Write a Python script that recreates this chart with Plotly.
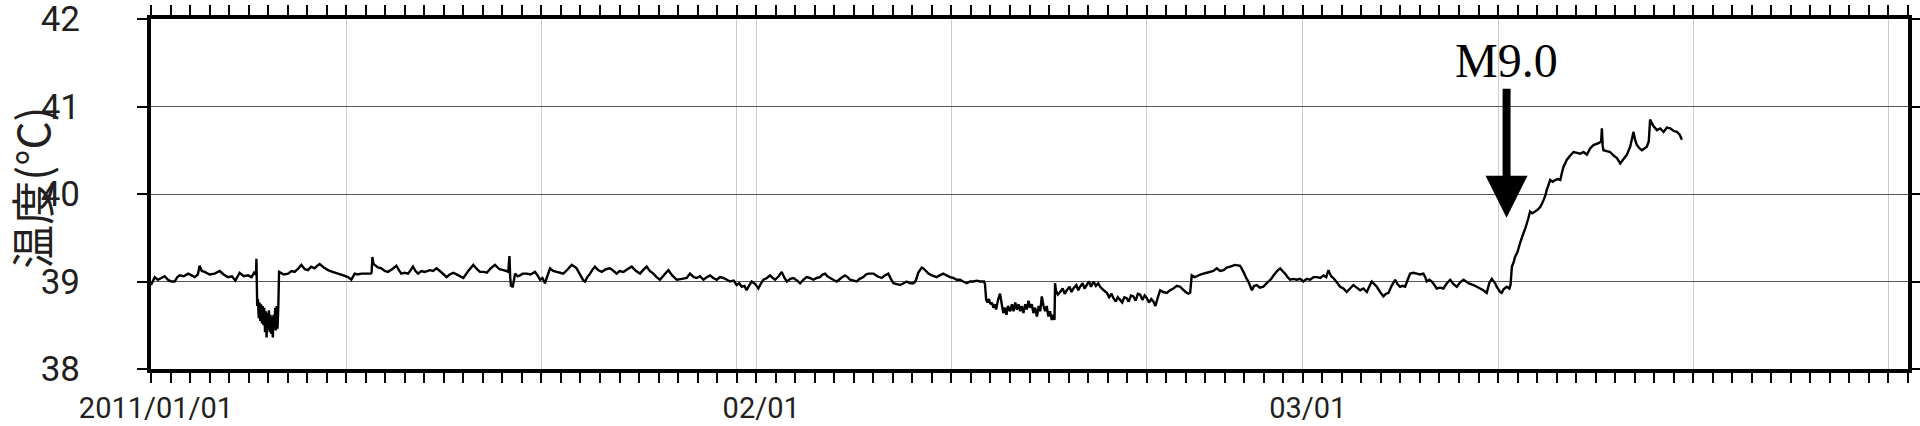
import pandas as pd
import plotly.graph_objects as go

# ---- data: (days since 2011-01-01 00:00, water temperature in degC) ----
jan_first_week = [
    (0.00, 38.96), (0.19, 39.05), (0.35, 39.02), (0.53, 39.04), (0.70, 39.06), (0.87, 39.02),
    (1.05, 39.00), (1.21, 39.00), (1.35, 39.05), (1.47, 39.07), (1.68, 39.06), (1.90, 39.09),
    (2.08, 39.07), (2.24, 39.05), (2.40, 39.08), (2.49, 39.18), (2.60, 39.12), (2.75, 39.11),
    (3.00, 39.08), (3.26, 39.09), (3.52, 39.12), (3.72, 39.08), (3.94, 39.05), (4.15, 39.06),
    (4.32, 39.01), (4.54, 39.10), (4.75, 39.06), (4.97, 39.07), (5.15, 39.05), (5.28, 39.10),
    (5.38, 39.08), (5.40, 39.26),
]
jan_dip = [
    (5.44, 38.72), (5.48, 38.80), (5.52, 38.58), (5.56, 38.76), (5.60, 38.55), (5.64, 38.74),
    (5.68, 38.52), (5.72, 38.72), (5.76, 38.50), (5.80, 38.70), (5.84, 38.42), (5.88, 38.66),
    (5.92, 38.36), (5.96, 38.64), (6.00, 38.45), (6.04, 38.67), (6.08, 38.42), (6.12, 38.62),
    (6.16, 38.40), (6.20, 38.60), (6.24, 38.36), (6.28, 38.62), (6.32, 38.45), (6.36, 38.70),
    (6.40, 38.44), (6.44, 38.72), (6.48, 38.46), (6.52, 38.70),
]
jan_mid = [
    (6.56, 39.11), (6.80, 39.08), (7.02, 39.09), (7.20, 39.12), (7.36, 39.11), (7.55, 39.15),
    (7.70, 39.19), (7.88, 39.14), (8.04, 39.13), (8.20, 39.17), (8.38, 39.15), (8.52, 39.18),
    (8.64, 39.20), (8.85, 39.16), (9.07, 39.13), (9.30, 39.11), (9.58, 39.09), (9.85, 39.07),
    (10.09, 39.05), (10.26, 39.02), (10.43, 39.09), (10.60, 39.08), (10.77, 39.09), (11.00, 39.09),
    (11.25, 39.09), (11.30, 39.10), (11.34, 39.28), (11.40, 39.20), (11.46, 39.19), (11.62, 39.16),
    (11.80, 39.15), (11.97, 39.12), (12.14, 39.11), (12.35, 39.14), (12.57, 39.18), (12.70, 39.13),
    (12.82, 39.09), (13.00, 39.10), (13.17, 39.09), (13.30, 39.13), (13.42, 39.17), (13.55, 39.12),
    (13.68, 39.09), (13.85, 39.12),
]
jan_late = [
    (14.02, 39.11), (14.29, 39.13), (14.45, 39.12), (14.63, 39.15), (14.90, 39.10), (15.14, 39.05),
    (15.30, 39.08), (15.49, 39.10), (15.75, 39.07), (16.00, 39.04), (16.25, 39.12), (16.51, 39.19),
    (16.70, 39.14), (16.85, 39.11), (17.05, 39.11), (17.20, 39.10), (17.40, 39.15), (17.62, 39.19),
    (17.85, 39.14), (18.05, 39.13), (18.20, 39.12), (18.30, 39.11), (18.36, 39.29), (18.40, 39.05),
    (18.44, 38.94), (18.48, 38.98), (18.52, 38.93), (18.58, 39.00), (18.65, 39.09), (18.78, 39.06),
    (18.90, 39.07), (19.05, 39.09), (19.24, 39.09), (19.45, 39.08), (19.67, 39.11), (19.80, 39.07),
    (19.93, 39.02), (20.05, 39.04), (20.18, 38.98), (20.30, 39.06), (20.44, 39.15), (20.60, 39.12),
    (20.78, 39.11), (20.95, 39.10), (21.12, 39.09), (21.35, 39.14), (21.55, 39.19), (21.70, 39.17),
    (21.80, 39.15), (22.00, 39.07), (22.15, 39.01), (22.23, 39.00), (22.35, 39.05), (22.49, 39.09),
    (22.60, 39.13), (22.74, 39.17), (22.90, 39.13), (23.09, 39.11), (23.30, 39.14), (23.51, 39.15),
    (23.70, 39.12), (23.85, 39.09), (24.00, 39.12), (24.20, 39.11), (24.40, 39.14), (24.62, 39.17),
    (24.85, 39.12), (25.05, 39.09), (25.20, 39.13), (25.39, 39.17), (25.55, 39.12), (25.73, 39.09),
    (25.90, 39.05), (26.07, 39.02), (26.30, 39.08), (26.50, 39.13), (26.70, 39.07), (26.93, 39.02),
    (27.20, 39.03), (27.44, 39.04),
]
jan_feb = [
    (27.61, 39.09), (27.80, 39.05), (27.95, 39.04), (28.12, 39.06), (28.30, 39.02), (28.48, 39.05),
    (28.64, 39.07), (28.80, 39.04), (28.98, 39.02), (29.15, 39.05), (29.32, 39.04), (29.50, 39.02),
    (29.66, 39.00), (29.85, 39.01), (30.00, 38.96), (30.13, 38.98), (30.26, 38.94), (30.40, 38.95),
    (30.51, 38.90), (30.65, 38.96), (30.77, 39.00), (30.95, 38.97), (31.11, 38.92), (31.25, 38.98),
    (31.37, 39.02), (31.55, 39.04), (31.71, 39.07), (31.85, 39.04), (31.97, 39.02), (32.15, 39.06),
    (32.31, 39.11), (32.45, 39.04), (32.57, 39.00), (32.75, 39.03), (32.91, 39.04), (33.10, 39.01),
    (33.25, 38.98), (33.42, 39.02), (33.59, 39.05), (33.75, 39.04), (33.93, 39.02), (34.10, 39.04),
    (34.27, 39.05), (34.40, 39.08), (34.53, 39.09), (34.65, 39.06), (34.79, 39.04), (34.95, 39.02),
    (35.13, 39.00), (35.35, 39.04), (35.55, 39.07), (35.68, 39.05), (35.81, 39.02), (36.00, 39.01),
    (36.15, 39.00), (36.30, 39.03), (36.49, 39.05), (36.62, 39.08), (36.75, 39.09), (36.90, 39.09),
    (37.01, 39.09), (37.20, 39.06), (37.43, 39.04), (37.60, 39.07), (37.77, 39.09), (37.90, 39.03),
    (38.03, 38.98), (38.20, 38.97), (38.37, 38.96), (38.55, 38.98), (38.71, 39.00), (38.88, 38.98),
    (39.05, 38.98), (39.15, 39.00), (39.22, 39.04), (39.30, 39.10), (39.39, 39.13), (39.48, 39.16),
    (39.56, 39.15), (39.70, 39.12), (39.82, 39.09), (40.00, 39.07), (40.24, 39.05), (40.40, 39.07),
    (40.58, 39.09), (40.75, 39.07), (40.93, 39.05), (41.10, 39.04), (41.27, 39.02),
]
feb_low = [
    (41.44, 39.02), (41.60, 39.00), (41.79, 38.98), (41.95, 39.00), (42.13, 39.00), (42.30, 39.01),
    (42.47, 39.00), (42.60, 39.00), (42.67, 39.00), (42.72, 38.97), (42.78, 38.79),
    (42.85, 38.76), (42.92, 38.80), (43.00, 38.74), (43.07, 38.76), (43.15, 38.70), (43.22, 38.74),
    (43.29, 38.68), (43.40, 38.80), (43.49, 38.86), (43.58, 38.74), (43.66, 38.64), (43.75, 38.70),
    (43.82, 38.62), (43.90, 38.72), (44.01, 38.66), (44.10, 38.74), (44.18, 38.66), (44.27, 38.76),
    (44.35, 38.68), (44.44, 38.74), (44.52, 38.66), (44.60, 38.72), (44.69, 38.64), (44.78, 38.74),
    (44.86, 38.68), (44.95, 38.78), (45.03, 38.70), (45.12, 38.74), (45.20, 38.64), (45.29, 38.70),
    (45.38, 38.60), (45.47, 38.72), (45.55, 38.66), (45.63, 38.83), (45.72, 38.72), (45.80, 38.66),
    (45.88, 38.72), (45.97, 38.60), (46.05, 38.66), (46.14, 38.56), (46.22, 38.62), (46.28, 38.56),
    (46.31, 38.98), (46.35, 38.90), (46.45, 38.85), (46.57, 38.88), (46.70, 38.92), (46.80, 38.86),
    (46.91, 38.90), (47.05, 38.94), (47.15, 38.88), (47.25, 38.92), (47.40, 38.96), (47.50, 38.90),
    (47.59, 38.94), (47.72, 38.98), (47.82, 38.92), (47.93, 38.96), (48.05, 39.00), (48.15, 38.94),
    (48.28, 39.00), (48.40, 38.95), (48.52, 38.98), (48.62, 38.94), (48.80, 38.90), (48.96, 38.87),
    (49.08, 38.82), (49.20, 38.86), (49.30, 38.81), (49.42, 38.77), (49.52, 38.82), (49.64, 38.79),
    (49.75, 38.76), (49.86, 38.82), (49.98, 38.81), (50.08, 38.77), (50.20, 38.84), (50.32, 38.83),
    (50.44, 38.78), (50.55, 38.86), (50.67, 38.85), (50.78, 38.79), (50.90, 38.84), (51.01, 38.81),
    (51.12, 38.76), (51.24, 38.80), (51.35, 38.77), (51.45, 38.72), (51.55, 38.80), (51.69, 38.90),
    (51.85, 38.88), (52.03, 38.87), (52.20, 38.90), (52.37, 38.92), (52.55, 38.95), (52.72, 38.94),
    (52.90, 38.90), (53.06, 38.87), (53.15, 38.86), (53.23, 38.87),
]
feb_mar = [
    (53.31, 39.07), (53.45, 39.05), (53.57, 39.06), (53.75, 39.08), (53.91, 39.09), (54.08, 39.10),
    (54.25, 39.11), (54.42, 39.12), (54.59, 39.15), (54.76, 39.12), (54.94, 39.13), (55.10, 39.16),
    (55.28, 39.17), (55.53, 39.19), (55.79, 39.18), (55.96, 39.11), (56.10, 39.04), (56.21, 39.00),
    (56.39, 38.90), (56.50, 38.95), (56.64, 38.96), (56.80, 38.93), (56.98, 38.94), (57.10, 38.97),
    (57.24, 39.00), (57.38, 39.03), (57.50, 39.07), (57.68, 39.12), (57.84, 39.15), (57.96, 39.12),
    (58.09, 39.09), (58.22, 39.05), (58.35, 39.02), (58.52, 39.03), (58.69, 39.02), (58.86, 39.03),
    (59.03, 39.00), (59.20, 39.03), (59.38, 39.02), (59.55, 39.05), (59.72, 39.05), (59.90, 39.04),
    (60.06, 39.07), (60.20, 39.05), (60.31, 39.13), (60.45, 39.06), (60.57, 39.04), (60.75, 38.99),
    (60.91, 38.94), (61.08, 38.92), (61.25, 38.88), (61.42, 38.92), (61.59, 38.96), (61.76, 38.93),
    (61.94, 38.90), (62.10, 38.92), (62.28, 38.88), (62.40, 38.94), (62.53, 39.00), (62.66, 38.97),
    (62.79, 38.94), (62.96, 38.88), (63.13, 38.83), (63.26, 38.86), (63.39, 38.87), (63.55, 38.95),
    (63.73, 39.02), (63.85, 38.97), (63.98, 38.94), (64.10, 38.95), (64.24, 38.94), (64.37, 39.02),
    (64.50, 39.09), (64.67, 39.10), (64.84, 39.09), (65.00, 39.08), (65.18, 39.09), (65.27, 39.05),
    (65.35, 39.00), (65.48, 39.02), (65.61, 39.00), (65.74, 38.96), (65.86, 38.92), (66.03, 38.93),
    (66.20, 38.92), (66.38, 38.98), (66.55, 39.02), (66.72, 38.97), (66.89, 38.94), (67.06, 38.99),
    (67.23, 39.02), (67.36, 39.00), (67.48, 38.98), (67.61, 38.97), (67.74, 38.96), (67.91, 38.94),
    (68.08, 38.92), (68.25, 38.90), (68.42, 38.87), (68.55, 38.98), (68.68, 39.03), (68.85, 38.98),
    (68.93, 38.94), (69.11, 38.88), (69.19, 38.87), (69.28, 38.91), (69.45, 38.94), (69.58, 38.92),
    (69.64, 38.96),
]
after_quake = [
    (69.71, 39.17), (69.80, 39.22), (69.87, 39.28), (70.00, 39.34), (70.13, 39.44), (70.22, 39.50),
    (70.30, 39.55), (70.40, 39.61), (70.47, 39.66), (70.55, 39.72), (70.64, 39.80), (70.75, 39.78),
    (70.90, 39.80), (71.02, 39.82), (71.16, 39.85), (71.25, 39.89), (71.33, 39.93), (71.42, 39.98),
    (71.50, 40.05), (71.58, 40.10), (71.67, 40.16), (71.80, 40.14), (71.93, 40.16), (72.06, 40.17),
    (72.19, 40.16), (72.27, 40.24), (72.35, 40.31), (72.44, 40.35), (72.52, 40.39), (72.70, 40.44),
    (72.87, 40.48), (73.05, 40.47), (73.21, 40.46), (73.38, 40.48), (73.55, 40.45), (73.72, 40.52),
    (73.89, 40.56), (74.02, 40.57), (74.15, 40.58), (74.28, 40.60), (74.32, 40.75), (74.36, 40.55),
    (74.40, 40.50), (74.57, 40.49), (74.74, 40.48), (74.92, 40.44), (75.09, 40.41), (75.26, 40.35),
    (75.43, 40.40), (75.60, 40.45), (75.77, 40.54), (75.85, 40.62), (75.94, 40.71), (76.02, 40.62),
    (76.11, 40.56), (76.25, 40.52), (76.37, 40.50), (76.50, 40.52), (76.62, 40.54), (76.72, 40.60),
    (76.79, 40.85), (76.95, 40.78), (77.14, 40.73), (77.30, 40.75), (77.48, 40.71), (77.65, 40.76),
    (77.82, 40.75), (78.00, 40.72), (78.16, 40.71), (78.30, 40.68), (78.42, 40.62),
]

start_date = "2011-01-01"
end_date = "2011-04-01"
y_ticks = [38, 39, 40, 41, 42]
label_dates = ["2011-01-01", "2011-02-01", "2011-03-01"]
label_texts = ["2011/01/01", "02/01", "03/01"]
grid_days_of_month = [1, 11, 21, 31]
quake_time = "2011-03-11 10:30"
quake_arrow_tip = 39.73
quake_label = "M9.0"
y_title = "温度(°C)"

# ---- build series ----
readings = jan_first_week + jan_dip + jan_mid + jan_late + jan_feb + feb_low + feb_mar + after_quake
day_offset = [d for d, _ in readings]
temperature = [t for _, t in readings]
times = pd.Timestamp(start_date) + pd.to_timedelta(day_offset, unit="D")

all_days = pd.date_range(start_date, end_date, freq="D")
grid_dates = [d for d in all_days if d.day in grid_days_of_month]
grid_vals = [d.strftime("%Y-%m-%d") for d in grid_dates]
grid_text = [label_texts[label_dates.index(v)] if v in label_dates else "" for v in grid_vals]

ink = "#231f20"

fig = go.Figure()
fig.add_trace(go.Scatter(
    x=times, y=temperature, mode="lines",
    line=dict(color="black", width=2.4, simplify=False),
    hoverinfo="skip", showlegend=False,
))

fig.update_layout(
    width=1920, height=426,
    margin=dict(l=151, r=12, t=19, b=57, autoexpand=False),
    paper_bgcolor="white", plot_bgcolor="white",
    showlegend=False,
    xaxis=dict(
        type="date", automargin=False,
        range=[start_date, end_date],
        tickmode="array", tickvals=grid_vals, ticktext=grid_text,
        ticks="outside", ticklen=10, tickwidth=2, tickcolor="black",
        showgrid=True, gridcolor="#cccccc", gridwidth=1,
        showline=True, linecolor="black", linewidth=4, mirror="allticks",
        tickfont=dict(family="Roboto", size=29, color=ink),
        ticklabelstandoff=0, ticklabelshift=5, ticklabeloverflow="allow",
        minor=dict(dtick=86400000, tick0=start_date, ticks="outside", ticklen=10,
                   tickwidth=2, tickcolor="black", showgrid=False),
        zeroline=False,
    ),
    yaxis=dict(
        automargin=False,
        range=[y_ticks[0], y_ticks[-1]],
        tickmode="array", tickvals=y_ticks,
        ticks="outside", ticklen=10, tickwidth=2, tickcolor="black",
        showgrid=True, gridcolor="#555555", gridwidth=1,
        showline=True, linecolor="black", linewidth=4, mirror="allticks",
        tickfont=dict(family="Roboto", size=35, color=ink),
        ticklabelstandoff=50, ticklabeloverflow="allow",
        zeroline=False,
    ),
)

fig.add_annotation(
    text=y_title, xref="paper", yref="paper", x=-0.0685, y=0.517,
    xanchor="center", yanchor="middle", textangle=-90, showarrow=False,
    font=dict(family="Noto Sans CJK JP", size=44, color=ink),
)

fig.add_annotation(
    x=quake_time, y=quake_arrow_tip, xref="x", yref="y",
    text=quake_label, showarrow=True, ax=0, ay=-157,
    arrowhead=2, arrowsize=1.05, arrowwidth=8, arrowcolor="black",
    font=dict(family="Liberation Serif", size=48, color="black"),
)

fig.write_html(
    "out.html",
    config={"displayModeBar": False},
    post_script="document.body.style.margin='0';document.body.style.overflow='hidden';",
)
